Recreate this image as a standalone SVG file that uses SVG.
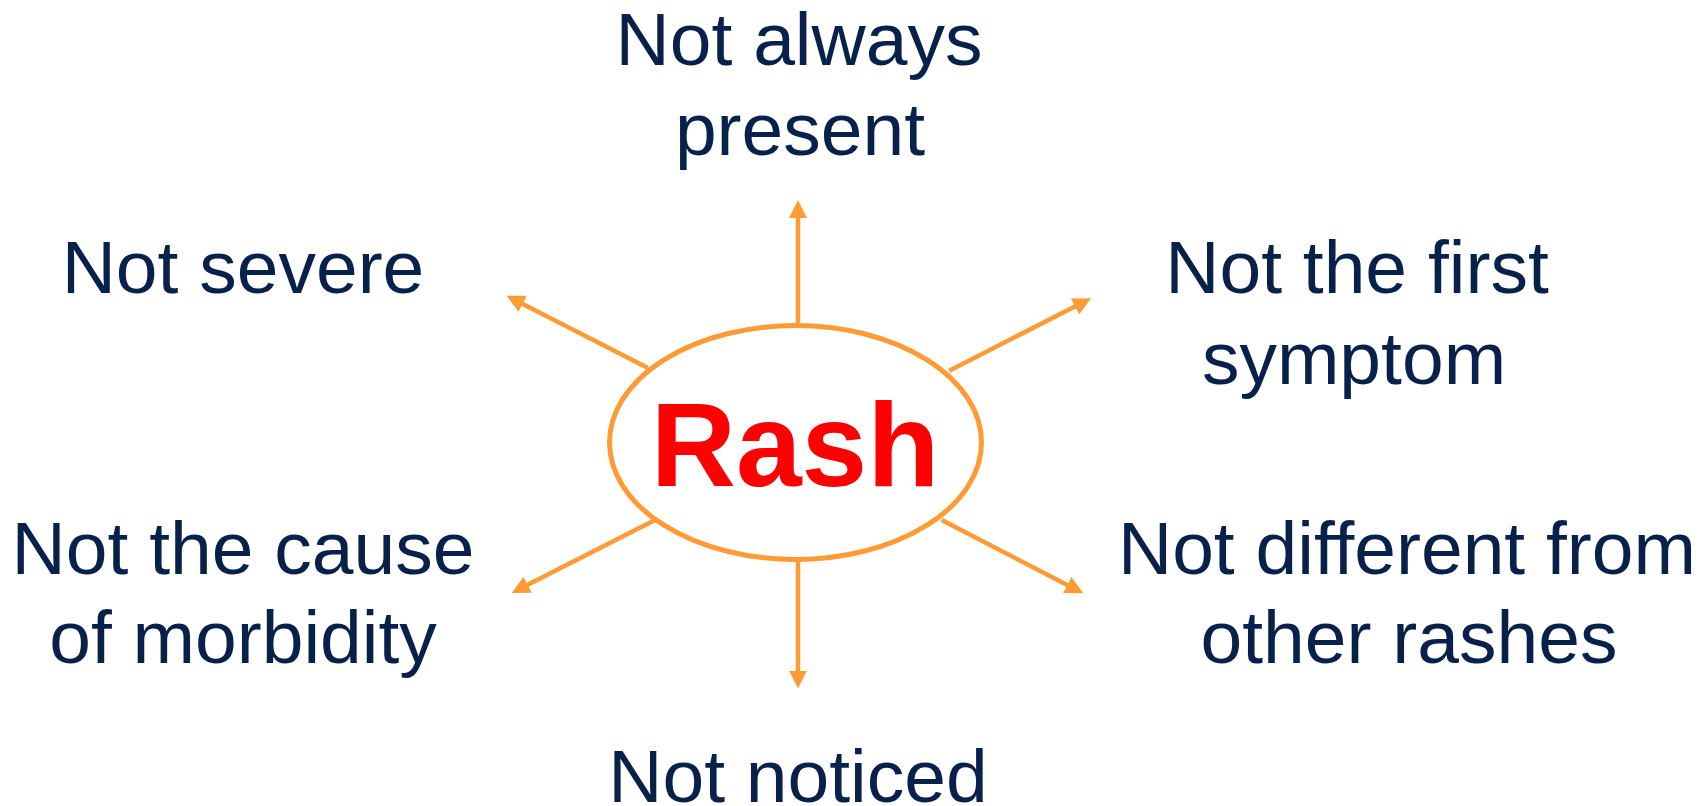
<svg xmlns="http://www.w3.org/2000/svg" width="1701" height="806" viewBox="0 0 1701 806">
<style>
.lbl{font-family:"Liberation Sans",Arial,sans-serif;font-size:75px;fill:#07214a;text-anchor:middle}
.conn{stroke:#ff9b35;stroke-width:4.5;fill:none;marker-end:url(#ah)}
</style>
<defs>
<marker id="ah" markerUnits="userSpaceOnUse" markerWidth="18" markerHeight="18" refX="1" refY="9" orient="auto">
<path d="M0,0 L18,9 L0,18 z" fill="#ff9b35"/>
</marker>
</defs>
<rect width="1701" height="806" fill="#ffffff"/>
<g id="connectors">
<line class="conn" x1="798" y1="323" x2="798" y2="217"/>
<line class="conn" x1="798" y1="562" x2="798" y2="671.5"/>
<line class="conn" x1="648" y1="368" x2="521.8" y2="303.4"/>
<line class="conn" x1="949.3" y1="370.7" x2="1075.9" y2="306"/>
<line class="conn" x1="655" y1="520" x2="526.8" y2="585.3"/>
<line class="conn" x1="941.7" y1="520" x2="1068.2" y2="585.5"/>
</g>
<g id="rash">
<ellipse cx="795.5" cy="442.5" rx="186" ry="117" fill="#ffffff" stroke="#ff9b35" stroke-width="5"/>
<text x="795" y="486" font-family="'Liberation Sans',Arial,sans-serif" font-size="118" font-weight="bold" fill="#ff0000" text-anchor="middle">Rash</text>
</g>
<g id="not-always-present">
<text class="lbl" x="799" y="65">Not always</text>
<text class="lbl" x="800" y="155">present</text>
</g>
<g id="not-severe">
<text class="lbl" x="243" y="293">Not severe</text>
</g>
<g id="not-first-symptom">
<text class="lbl" x="1357" y="293">Not the first</text>
<text class="lbl" x="1354" y="384">symptom</text>
</g>
<g id="not-cause">
<text class="lbl" x="243" y="574">Not the cause</text>
<text class="lbl" x="243" y="663">of morbidity</text>
</g>
<g id="not-different">
<text class="lbl" x="1407" y="574">Not different from</text>
<text class="lbl" x="1409" y="663">other rashes</text>
</g>
<g id="not-noticed">
<text class="lbl" x="798" y="802">Not noticed</text>
</g>
</svg>
